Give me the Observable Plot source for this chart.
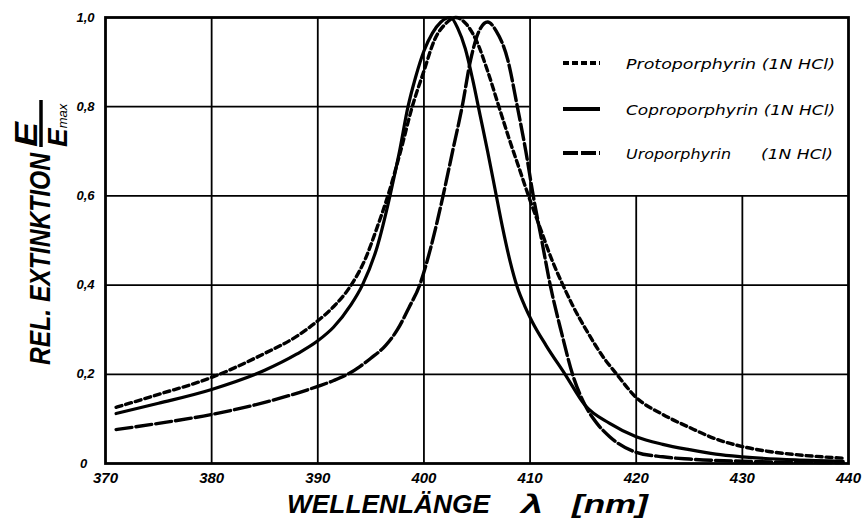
<!DOCTYPE html>
<html><head><meta charset="utf-8">
<script src="https://cdn.jsdelivr.net/npm/d3@7"></script>
<script src="https://cdn.jsdelivr.net/npm/@observablehq/plot@0.6"></script>
<style>body{margin:0;background:#fff}#chart svg{display:block}</style>
</head><body><div id="chart"></div>
<script>
// Wavelength (nm) and relative extinction E/Emax
const protoX = [371, 375, 380, 385, 388, 390, 391.5, 393, 394.5, 395.6, 396.6, 397.8, 398.9, 400, 401, 402, 403, 404, 405, 406, 407, 408, 409, 410, 411, 412, 413, 414, 415.4, 417, 418, 420, 422.5, 425, 427.5, 430, 432.5, 435, 437.5, 439.5];
const protoY = [0.126, 0.155, 0.193, 0.247, 0.285, 0.32, 0.352, 0.395, 0.46, 0.53, 0.6, 0.7, 0.8, 0.88, 0.95, 0.985, 1.0, 0.985, 0.945, 0.88, 0.805, 0.73, 0.66, 0.59, 0.525, 0.46, 0.405, 0.355, 0.295, 0.235, 0.205, 0.148, 0.11, 0.081, 0.055, 0.038, 0.027, 0.02, 0.015, 0.012];

const coproX = [371, 375, 380, 385, 388, 390, 391.5, 393.1, 394.2, 395.6, 396.8, 397.7, 398.5, 399.2, 400, 400.8, 401.6, 402.5, 403.2, 403.9, 404.6, 405.3, 406, 406.7, 407.4, 408.1, 408.8, 409.5, 410.2, 411.5, 413.3, 415.2, 417.5, 420, 422.5, 425, 427.5, 430, 435, 439.5];
const coproY = [0.112, 0.135, 0.166, 0.209, 0.245, 0.275, 0.306, 0.355, 0.4, 0.486, 0.6, 0.7, 0.8, 0.865, 0.925, 0.965, 0.99, 1.0, 0.975, 0.93, 0.86, 0.78, 0.7, 0.615, 0.53, 0.455, 0.395, 0.353, 0.318, 0.265, 0.2, 0.13, 0.09, 0.06, 0.043, 0.031, 0.021, 0.015, 0.008, 0.005];

const uroX = [371, 375, 380, 385, 390, 391.5, 392.8, 394, 395, 396.4, 397.5, 398.6, 399.6, 400.6, 401.8, 402.7, 403.6, 404.4, 405.2, 406, 406.8, 407.9, 408.8, 409.6, 410.3, 411.1, 411.9, 413, 414, 415.2, 416.3, 417.5, 420, 422.5, 425, 430, 435, 439.5];
const uroY = [0.076, 0.09, 0.110, 0.137, 0.173, 0.186, 0.2, 0.218, 0.236, 0.265, 0.3, 0.35, 0.4, 0.48, 0.6, 0.7, 0.8, 0.905, 0.97, 0.99, 0.97, 0.905, 0.8, 0.7, 0.6, 0.5, 0.4, 0.29, 0.2, 0.13, 0.09, 0.06, 0.025, 0.015, 0.01, 0.005, 0.003, 0.002];

const xTicks = [370, 380, 390, 400, 410, 420, 430, 440];
const yTicks = [0, 0.2, 0.4, 0.6, 0.8, 1.0];
const legendLabels = ["Protoporphyrin (1N HCl)", "Coproporphyrin (1N HCl)", "Uroporphyrin"];
const legendSuffix = ["", "", "(1N HCl)"];
const legendDash = ["6,3", null, "15,3"];
const legendBox = {x: 410, y: 0.6}; // lower-left corner of legend panel (data units)

const toRows = (xs, ys) => xs.map((x, i) => ({x, y: ys[i]}));
const proto = toRows(protoX, protoY);
const copro = toRows(coproX, coproY);
const uro = toRows(uroX, uroY);

const vGrid = xTicks.slice(1, -1);
const hGrid = yTicks.slice(1, -1);
const fmtY = d => d === 0 ? "0\u00a0\u00a0" : d.toFixed(1).replace(".", ",");

const plot = Plot.plot({
  width: 862, height: 518,
  marginLeft: 105, marginRight: 14, marginTop: 17, marginBottom: 55,
  x: {domain: [370, 440]},
  y: {domain: [0, 1]},
  style: {background: "white", color: "black"},
  marks: [
    Plot.ruleX(vGrid, {x: d => d, y1: 0, y2: d => d > legendBox.x ? legendBox.y : 1, stroke: "black", strokeWidth: 1.8}),
    Plot.ruleY(hGrid, {y: d => d, x1: 370, x2: d => d > legendBox.y ? legendBox.x : 440, stroke: "black", strokeWidth: 1.8}),
    Plot.line(proto, {x: "x", y: "y", curve: "monotone-x", stroke: "black", strokeWidth: 3.4, strokeDasharray: "6,4"}),
    Plot.line(copro, {x: "x", y: "y", curve: "monotone-x", stroke: "black", strokeWidth: 3.2}),
    Plot.line(uro, {x: "x", y: "y", curve: "monotone-x", stroke: "black", strokeWidth: 3.4, strokeDasharray: "16,4"}),
    Plot.frame({stroke: "black", strokeWidth: 2.8}),
    Plot.axisX({ticks: xTicks, tickSize: 0, tickPadding: 9, tickFormat: d => String(d), label: null,
      fontSize: 15, fontWeight: "bold", fontStyle: "italic", fontFamily: "Liberation Sans"}),
    Plot.axisY({ticks: yTicks, tickSize: 0, tickPadding: 11, tickFormat: fmtY, label: null,
      fontSize: 13, fontWeight: "bold", fontStyle: "italic", fontFamily: "Liberation Sans"})
  ]
});
document.getElementById("chart").appendChild(plot);

const svg = d3.select(plot);
// Legend
const lg = svg.append("g").attr("text-anchor", "start").attr("font-family", "DejaVu Sans").attr("font-style", "italic").attr("font-size", 14).attr("fill", "black");
const rowsY = [63, 109, 153];
legendLabels.forEach((lab, i) => {
  lg.append("line").attr("x1", 563).attr("x2", 600).attr("y1", rowsY[i]).attr("y2", rowsY[i])
    .attr("stroke", "black").attr("stroke-width", 4).attr("stroke-dasharray", legendDash[i]);
  if (legendSuffix[i]) {
    lg.append("text").attr("x", 626).attr("y", rowsY[i] + 6).attr("textLength", 105).attr("lengthAdjust", "spacingAndGlyphs").text(lab);
    lg.append("text").attr("x", 761).attr("y", rowsY[i] + 6).attr("textLength", 72).attr("lengthAdjust", "spacingAndGlyphs").text(legendSuffix[i]);
  } else {
    lg.append("text").attr("x", 626).attr("y", rowsY[i] + 6).attr("textLength", 209).attr("lengthAdjust", "spacingAndGlyphs").text(lab);
  }
});

// X axis label
const xl = svg.append("g").attr("text-anchor", "start").attr("font-family", "Liberation Sans").attr("font-weight", "bold").attr("font-style", "italic").attr("font-size", 26).attr("fill", "black");
xl.append("text").attr("x", 287).attr("y", 513).attr("textLength", 203).attr("lengthAdjust", "spacingAndGlyphs").text("WELLENLÄNGE");
xl.append("text").attr("x", 521).attr("y", 513).attr("textLength", 22).attr("lengthAdjust", "spacingAndGlyphs").text("λ");
xl.append("text").attr("x", 572).attr("y", 513).attr("textLength", 76).attr("lengthAdjust", "spacingAndGlyphs").text("[nm]");

// Y axis label (rotated)
const yl = svg.append("g").attr("transform", "rotate(-90)").attr("text-anchor", "start").attr("font-family", "Liberation Sans").attr("font-weight", "bold").attr("font-style", "italic").attr("fill", "black");
yl.append("text").attr("x", -365).attr("y", 50).attr("font-size", 29).attr("textLength", 212).attr("lengthAdjust", "spacingAndGlyphs").text("REL. EXTINKTION");
yl.append("text").attr("x", -147).attr("y", 37).attr("font-size", 32).attr("textLength", 25).attr("lengthAdjust", "spacingAndGlyphs").text("E");
yl.append("line").attr("x1", -147).attr("x2", -100).attr("y1", 41).attr("y2", 41).attr("stroke", "black").attr("stroke-width", 3.5);
const den = yl.append("text").attr("x", -147).attr("y", 67).attr("font-size", 28);
den.append("tspan").text("E");
den.append("tspan").attr("font-size", 13).attr("font-weight", "normal").text("max");
</script>
</body></html>
